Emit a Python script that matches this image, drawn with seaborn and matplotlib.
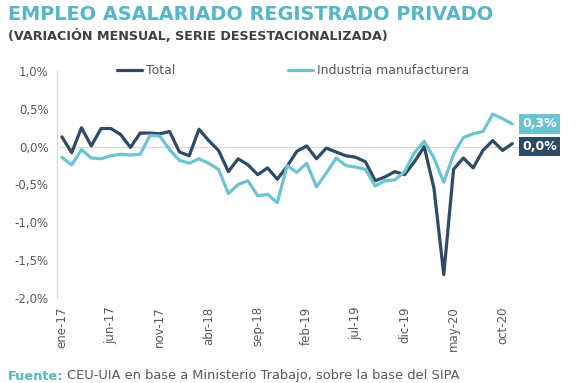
import pandas as pd
import seaborn as sns
from matplotlib import pyplot as plt


meses = ["ene", "feb", "mar", "abr", "may", "jun", "jul", "ago", "sep", "oct", "nov", "dic"]
periodos = [f"{m}-{a}" for a in (17, 18, 19, 20) for m in meses][:47]

# variacion mensual (%), ene-17 a nov-20
total = [
    0.13, -0.08, 0.25, 0.01, 0.24, 0.24, 0.16, -0.01, 0.18, 0.18, 0.17, 0.20,
    -0.07, -0.12, 0.23, 0.08, -0.05, -0.33, -0.16, -0.24, -0.37, -0.28, -0.43, -0.26,
    -0.06, 0.01, -0.16, -0.02, -0.07, -0.12, -0.14, -0.20, -0.45, -0.40, -0.33, -0.37,
    -0.20, 0.00, -0.55, -1.69, -0.30, -0.15, -0.28, -0.05, 0.08, -0.05, 0.04,
]
industria = [
    -0.14, -0.24, -0.04, -0.15, -0.16, -0.12, -0.10, -0.11, -0.10, 0.15, 0.14, -0.04,
    -0.18, -0.22, -0.16, -0.22, -0.30, -0.62, -0.50, -0.45, -0.65, -0.63, -0.74, -0.25,
    -0.34, -0.22, -0.53, -0.35, -0.15, -0.25, -0.27, -0.30, -0.52, -0.45, -0.44, -0.33,
    -0.08, 0.07, -0.15, -0.47, -0.10, 0.12, 0.17, 0.20, 0.43, 0.37, 0.30,
]
series = ["Total", "Industria manufacturera"]
yticks = [1.0, 0.5, 0.0, -0.5, -1.0, -1.5, -2.0]

c_total = "#2d4a66"
c_ind = "#6cc4d0"
c_title = "#55b6c8"
c_text = "#595959"


def main():
    df = pd.DataFrame({
        "i": list(range(len(periodos))) * 2,
        "serie": [series[0]] * len(total) + [series[1]] * len(industria),
        "y": total + industria,
    })

    sns.set_theme(style="white")
    plt.rcParams["font.family"] = ["DejaVu Sans"]

    fig = plt.figure(figsize=(5.76, 3.83), dpi=100)
    ax = fig.add_axes([57 / 576, 1 - 298 / 383, 470 / 576, 227 / 383])

    sns.lineplot(data=df, x="i", y="y", hue="serie", hue_order=series,
                 palette=[c_total, c_ind], linewidth=2.3, ax=ax)

    ax.set_xlim(-0.5, 47.5)
    ax.set_ylim(-2.0, 1.0)
    ax.set_yticks(yticks)
    ax.set_yticklabels([f"{v:.1f}%".replace(".", ",") for v in yticks], fontsize=8.5, color=c_text)
    xt = list(range(0, len(periodos), 5))
    ax.set_xticks(xt)
    ax.set_xticklabels([periodos[k] for k in xt], rotation=90, fontsize=8.5, color=c_text)
    ax.tick_params(axis="both", length=0, pad=6)
    ax.set_xlabel("")
    ax.set_ylabel("")
    ax.axhline(0, color="#d9d9d9", linewidth=0.9, zorder=0)
    for s in ("top", "right", "bottom"):
        ax.spines[s].set_visible(False)
    ax.spines["left"].set_color("#d9d9d9")
    ax.spines["left"].set_linewidth(0.9)

    leg = ax.legend(loc="center", bbox_to_anchor=(0.502, 1.0), ncol=2, frameon=False,
                    fontsize=9, handlelength=2.0, columnspacing=9.0, handletextpad=0.3)
    for t in leg.get_texts():
        t.set_color(c_text)

    # etiquetas finales, centradas en el valor redondeado
    for vals, col in ((industria, c_ind), (total, c_total)):
        last = round(vals[-1], 1)
        ax.annotate(f"{last:.1f}%".replace(".", ","), xy=(len(vals) - 1, last),
                    xytext=(7, 0), textcoords="offset points", va="center", ha="left",
                    fontsize=9, fontweight="bold", color="white",
                    bbox=dict(boxstyle="square,pad=0.25", fc=col, ec="none"))

    fig.text(8 / 576, 1 - 5 / 383, "EMPLEO ASALARIADO REGISTRADO PRIVADO", ha="left", va="top",
             fontsize=13.9, fontweight="bold", color=c_title)
    fig.text(8 / 576, 1 - 29 / 383, "(VARIACIÓN MENSUAL, SERIE DESESTACIONALIZADA)", ha="left", va="top",
             fontsize=9.2, fontweight="bold", color="#404040")
    f = fig.text(8 / 576, 1 - 376 / 383, "Fuente:", ha="left", va="center",
                 fontsize=9.3, fontweight="bold", color=c_title)
    fig.canvas.draw()
    bb = f.get_window_extent()
    fig.text(bb.x1 / fig.bbox.width + 0.006, 1 - 376 / 383,
             "CEU-UIA en base a Ministerio Trabajo, sobre la base del SIPA", ha="left", va="center",
             fontsize=9.4, color=c_text)

    fig.savefig("out.png", dpi=100)


if __name__ == "__main__":
    main()
